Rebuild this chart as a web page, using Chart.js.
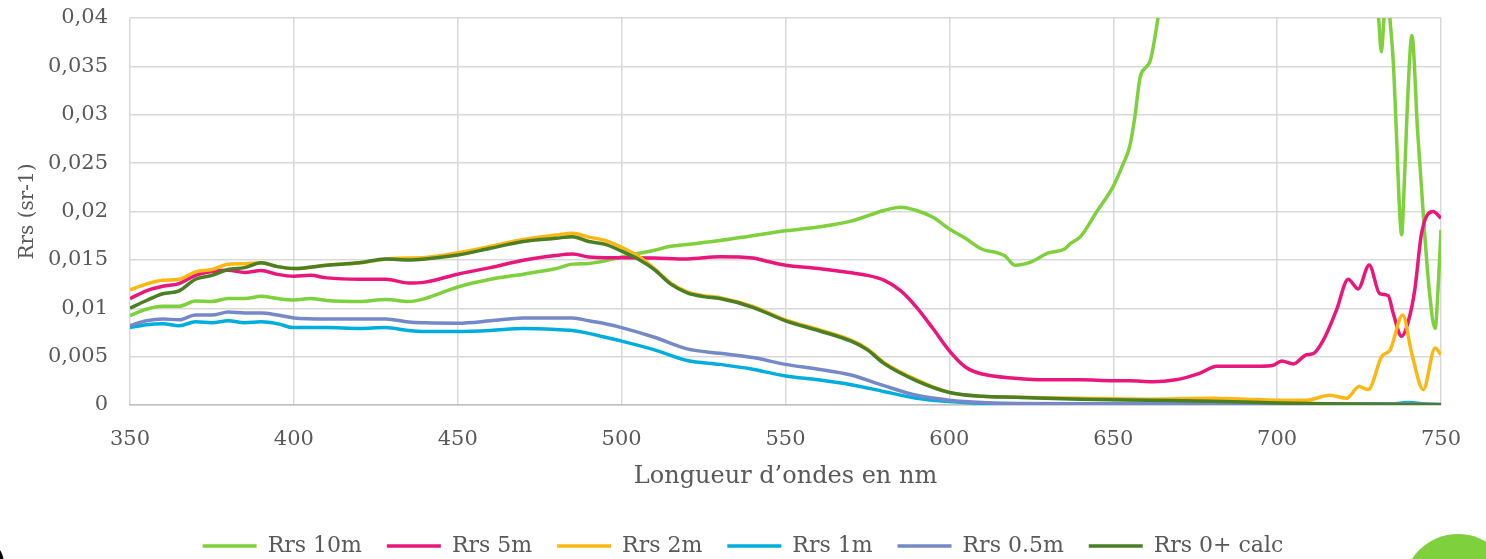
<!DOCTYPE html>
<html>
<head>
<meta charset="utf-8">
<script src="https://cdn.jsdelivr.net/npm/chart.js@4"></script>
<style>
  html, body { margin: 0; padding: 0; background: #fff; overflow: hidden; }
  #wrap { position: relative; width: 1486px; height: 559px; }
  #deco-circle { position: absolute; left: 1403px; top: 534px; width: 110px; height: 110px; border-radius: 50%; background: #7ed13c; }
  #deco-dark { position: absolute; left: -20px; top: 545px; width: 24px; height: 40px; border-radius: 50%; background: #000; }
</style>
</head>
<body>
<div id="wrap">
  <canvas id="chart" width="1486" height="559"></canvas>
  <div id="deco-circle"></div>
  <div id="deco-dark"></div>
</div>
<script>
// wavelengths (nm) and Rrs values
const nm10 = [350,355,360,365,370,375,380,385,390,395,400,405,410,420,428,435,440,450,460,470,480,485,490,495,500,510,515,520,530,540,550,560,570,580,585,590,595,600,605,610,615,617,620,625,630,635,637,640,645,650,653,655,656.6,658.2,659.7,661.2,662.2,663.7,666,670,680,690,700,710,720,726,730,731,731.8,732.6,733.5,734.4,735.4,736.4,737.2,738,738.6,739.6,740.6,741.1,742.9,745,746.5,748.2,749.2,750];
const rrs10 = [0.00925,0.0099,0.0102,0.0102,0.01075,0.0107,0.0110,0.0110,0.01123,0.0110,0.01085,0.0110,0.0108,0.0107,0.0109,0.0107,0.0110,0.0122,0.0130,0.01352,0.0141,0.01456,0.01463,0.0149,0.0153,0.0160,0.0164,0.0166,0.0170,0.0175,0.0180,0.0184,0.0190,0.0201,0.02045,0.0201,0.0194,0.0182,0.0172,0.0161,0.0157,0.0154,0.01445,0.0148,0.0157,0.0161,0.0167,0.0174,0.0200,0.0226,0.0249,0.0267,0.0298,0.0339,0.0348,0.0355,0.0370,0.0401,0.045,0.052,0.062,0.068,0.070,0.068,0.060,0.050,0.043,0.0398,0.0365,0.0400,0.0440,0.0400,0.0357,0.0281,0.0212,0.0176,0.0212,0.0298,0.0367,0.0382,0.0281,0.0178,0.0116,0.0079,0.0126,0.0181];

const nm5 = [350,355,360,365,370,375,380,385,390,395,400,405,410,420,428,435,440,450,460,470,480,485,490,495,500,510,520,530,540,545,550,560,570,575,580,585,590,595,600,605,610,620,630,640,650,655,662,669,676.5,681.6,688.7,694.8,698.8,701.4,704.9,709,711,714.1,718.1,721.7,724.7,728.1,731.3,733.9,735.4,738,740,742,744.1,747.6,750];
const rrs5 = [0.0110,0.0118,0.01227,0.01255,0.0134,0.0138,0.01393,0.0137,0.0139,0.0135,0.0133,0.0134,0.01314,0.0130,0.0130,0.0126,0.0127,0.01352,0.0142,0.01497,0.01546,0.0156,0.0153,0.01522,0.01522,0.0152,0.0151,0.01532,0.0152,0.0148,0.01445,0.0141,0.01366,0.0134,0.0129,0.01185,0.0101,0.0079,0.0056,0.0039,0.0032,0.00277,0.0026,0.0026,0.0025,0.0025,0.0024,0.0026,0.0033,0.0040,0.0040,0.0040,0.0041,0.00455,0.00424,0.0052,0.0053,0.0067,0.0098,0.0130,0.0120,0.01447,0.0115,0.0113,0.0095,0.0071,0.0086,0.0119,0.0178,0.0200,0.0193];

const nm2 = [350,355,360,365,370,375,380,385,390,395,400,410,420,430,440,450,460,470,480,485,490,495,500,505,510,515,520,525,530,540,550,560,570,575,580,590,600,610,620,640,660,680,690,700,709,716,721.2,725,727.8,731.9,734.5,738.3,741.1,744.6,748.2,750];
const rrs2 = [0.0119,0.0125,0.0129,0.0130,0.01376,0.0140,0.01456,0.0146,0.0147,0.0143,0.0141,0.01445,0.0147,0.01515,0.01525,0.01574,0.0164,0.01712,0.01757,0.01775,0.01735,0.0170,0.0163,0.0154,0.0141,0.0126,0.0117,0.0113,0.0111,0.0102,0.0088,0.0078,0.0067,0.0058,0.0044,0.0026,0.0013,0.0009,0.0008,0.0007,0.0006,0.0007,0.0006,0.0005,0.0005,0.0010,0.0007,0.0019,0.0016,0.0050,0.0057,0.0093,0.0053,0.0016,0.0059,0.0052];

const nm1 = [350,355,360,365,370,375,380,385,390,395,400,410,420,428,435,440,450,460,470,480,485,490,495,500,510,520,530,540,550,560,570,580,590,600,610,650,700,735,740,745,750];
const rrs1 = [0.0080,0.0083,0.0084,0.0082,0.0086,0.0085,0.0087,0.0085,0.0086,0.0084,0.0080,0.0080,0.0079,0.0080,0.0077,0.0076,0.0076,0.0077,0.0079,0.0078,0.0077,0.0074,0.0070,0.0066,0.0057,0.0046,0.0042,0.0037,0.0030,0.0026,0.0021,0.0014,0.0007,0.00035,0.00017,0.0001,0.0001,0.0001,0.00025,0.0001,0.00005];

const nm05 = [350,355,360,365,370,375,380,385,390,395,400,410,420,428,435,440,450,460,470,480,485,490,495,500,510,520,530,540,550,560,570,580,590,600,610,620,650,700,740,750];
const rrs05 = [0.0082,0.0087,0.0089,0.0088,0.0093,0.0093,0.0096,0.0095,0.0095,0.0093,0.0090,0.0089,0.0089,0.0089,0.00858,0.0085,0.00846,0.0087,0.0090,0.0090,0.0090,0.0087,0.0084,0.0080,0.0070,0.0058,0.00534,0.0049,0.0042,0.0037,0.0031,0.0020,0.0010,0.0005,0.00025,0.00015,0.00012,0.0001,0.0001,0.00005];

const nm0 = [350,355,360,365,370,375,380,385,390,395,400,410,420,428,435,440,450,460,470,480,485,490,495,500,505,510,515,520,525,530,540,550,560,570,575,580,590,600,610,620,640,660,680,700,720,750];
const rrs0 = [0.0100,0.0108,0.0115,0.0118,0.0130,0.0134,0.0140,0.0142,0.0147,0.0143,0.0141,0.01445,0.0147,0.0151,0.0150,0.0151,0.0155,0.0162,0.0169,0.01723,0.0174,0.0169,0.0166,0.0159,0.0151,0.0140,0.0125,0.0116,0.0112,0.0110,0.0101,0.0087,0.0077,0.0066,0.0057,0.0043,0.0025,0.0013,0.0009,0.0008,0.0006,0.0005,0.0004,0.0002,0.0001,0.00003];

const seriesNames = ['Rrs 10m', 'Rrs 5m', 'Rrs 2m', 'Rrs 1m', 'Rrs 0.5m', 'Rrs 0+ calc'];
const seriesX = [nm10, nm5, nm2, nm1, nm05, nm0];
const seriesY = [rrs10, rrs5, rrs2, rrs1, rrs05, rrs0];
const colors = ['#7ed13c', '#e9177c', '#fdb714', '#00aede', '#7589c8', '#4a7f24'];
const yTickLabels = ['0', '0,005', '0,01', '0,015', '0,02', '0,025', '0,03', '0,035', '0,04'];

const font = 'DejaVu Serif';
const grey = '#595959';

const datasets = seriesNames.map((name, i) => ({
    label: name,
    data: seriesX[i].map((x, j) => ({ x: x, y: seriesY[i][j] })),
    borderColor: colors[i],
    backgroundColor: colors[i],
    borderWidth: 3.5,
    pointRadius: 0,
    cubicInterpolationMode: 'monotone',
    order: seriesNames.length - i
}));

new Chart(document.getElementById('chart'), {
    type: 'line',
    data: { datasets },
    options: {
        responsive: false,
        animation: false,
        layout: { padding: { left: 0, right: 0, top: 18, bottom: -8 } },
        plugins: {
            tooltip: { enabled: false },
            legend: {
                position: 'bottom',
                labels: {
                    sort: (a, b) => a.datasetIndex - b.datasetIndex,
                    usePointStyle: true,
                    pointStyle: 'line',
                    pointStyleWidth: 54,
                    padding: 25,
                    color: grey,
                    font: { family: font, size: 22 }
                }
            }
        },
        scales: {
            x: {
                type: 'linear',
                min: 350, max: 750,
                afterFit: (s) => { s.height = 105; },
                ticks: { stepSize: 50, color: grey, padding: 22, font: { family: font, size: 21 } },
                grid: { color: '#d9d9d9', lineWidth: 1.5, drawTicks: false },
                border: { color: '#bfbfbf', width: 1.5 },
                title: { display: true, text: 'Longueur d’ondes en nm', color: grey, padding: { top: 10, bottom: 19 }, font: { family: font, size: 24 } }
            },
            y: {
                min: 0, max: 0.04,
                afterFit: (s) => { s.width = 130; s.paddingTop = 0; s.paddingBottom = 0; },
                ticks: { stepSize: 0.005, color: grey, padding: 22, font: { family: font, size: 21 },
                    callback: (v, i) => yTickLabels[i] },
                grid: { color: '#d9d9d9', lineWidth: 1.5, drawTicks: false },
                border: { display: false },
                title: { display: true, text: 'Rrs (sr-1)', color: grey, padding: { top: 16, bottom: 0 }, font: { family: font, size: 20 } }
            },
            yRight: {
                position: 'right',
                afterFit: (s) => { s.width = 45; s.paddingTop = 0; s.paddingBottom = 0; },
                ticks: { display: false },
                grid: { display: false },
                border: { display: false }
            }
        }
    }
});
</script>
</body>
</html>
